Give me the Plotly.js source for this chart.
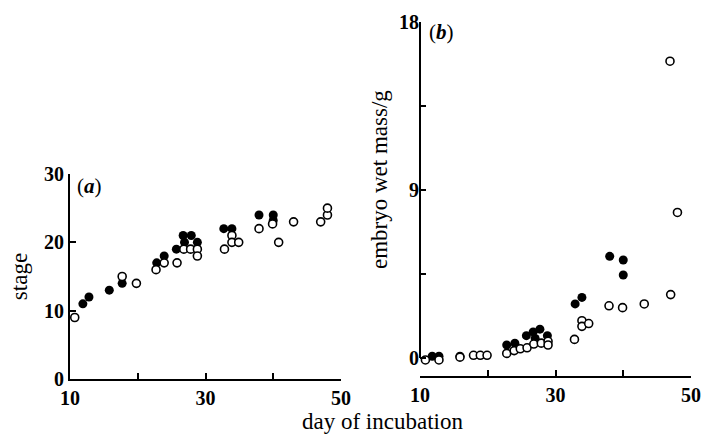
<!DOCTYPE html>
<html>
<head>
<meta charset="utf-8">
<script src="https://cdn.plot.ly/plotly-3.0.1.min.js"></script>
<style>html,body{margin:0;padding:0;background:#fff;}#chart{width:704px;height:435px;}</style>
</head>
<body>
<div id="chart"></div>
<script>
// Panel (a): stage vs day of incubation
const stageOpenDays   = [10.7, 17.7, 19.8, 22.7, 23.9, 25.8, 26.8, 27.8, 28.8, 28.8, 32.8, 33.9, 33.9, 34.9, 37.9, 39.9, 40.8, 43.0, 47.0, 48.0, 48.0];
const stageOpen       = [9, 15, 14, 16, 17, 17, 19, 19, 19, 18, 19, 21, 20, 20, 22, 22.7, 20, 23, 23, 24, 25];
const stageFilledDays = [11.9, 12.8, 15.8, 17.7, 22.8, 23.9, 25.7, 26.7, 27.9, 26.9, 28.8, 32.7, 33.9, 37.9, 40.0, 40.0];
const stageFilled     = [11, 12, 13, 14, 17, 18, 19, 21, 21, 20, 20, 22, 22, 24, 24, 23.2];

// Panel (b): embryo wet mass (g) vs day of incubation
const massOpenDays   = [10.8, 12.8, 15.9, 17.9, 18.9, 19.9, 22.8, 23.9, 24.8, 25.8, 26.8, 27.9, 28.9, 28.9, 32.8, 33.9, 33.9, 34.9, 37.9, 39.9, 43.1, 47.0, 48.0, 46.9];
const massOpen       = [-0.1, -0.1, 0.05, 0.15, 0.15, 0.15, 0.25, 0.4, 0.5, 0.55, 0.75, 0.8, 0.9, 0.7, 1.0, 2.0, 1.7, 1.85, 2.8, 2.7, 2.9, 3.4, 7.8, 15.9];
const massFilledDays = [11.8, 12.8, 15.9, 22.8, 24.0, 25.7, 26.7, 27.7, 27.0, 28.8, 32.9, 33.9, 38.0, 40.0, 40.0];
const massFilled     = [0.1, 0.1, 0.1, 0.7, 0.8, 1.2, 1.4, 1.55, 1.05, 1.2, 2.9, 3.25, 5.45, 5.25, 4.45];

// Tick labels
const dayTicks = [10, 20, 30, 40, 50];
const dayTickText = ['10', '', '30', '', '50'];
const stageTicks = [0, 10, 20, 30];
const stageTickText = ['0', '10', '20', '30'];
const massTicks = [0, 4.5, 9, 13.5, 18];
const massTickText = ['0', '', '9', '', '18'];

const serif = 'Liberation Serif, DejaVu Serif, serif';
const filledMarker = {symbol: 'circle', size: 9, color: '#000', line: {width: 0}};
const openMarker = {symbol: 'circle', size: 8, color: '#fff', line: {color: '#000', width: 1.6}};

const traces = [
  {x: stageFilledDays, y: stageFilled, xaxis: 'x', yaxis: 'y', type: 'scatter', mode: 'markers', marker: filledMarker, name: 'filled', cliponaxis: false},
  {x: stageOpenDays, y: stageOpen, xaxis: 'x', yaxis: 'y', type: 'scatter', mode: 'markers', marker: openMarker, name: 'open', cliponaxis: false},
  {x: massFilledDays, y: massFilled, xaxis: 'x2', yaxis: 'y2', type: 'scatter', mode: 'markers', marker: filledMarker, name: 'filled', cliponaxis: false},
  {x: massOpenDays, y: massOpen, xaxis: 'x2', yaxis: 'y2', type: 'scatter', mode: 'markers', marker: openMarker, name: 'open', cliponaxis: false}
];

const tickFont = {family: serif, size: 20, color: '#000', weight: 'bold'};
const titleFont = {family: serif, size: 23, color: '#000'};
const baseAxis = {
  showgrid: false, zeroline: false, showline: true, linecolor: '#000', linewidth: 2,
  ticks: 'inside', ticklen: 6, tickwidth: 2, tickcolor: '#000', tickfont: tickFont, fixedrange: true
};

const layout = {
  width: 704, height: 435,
  margin: {l: 0, r: 0, t: 0, b: 0},
  paper_bgcolor: '#fff', plot_bgcolor: '#fff',
  showlegend: false,
  xaxis: Object.assign({}, baseAxis, {domain: [70/704, 341/704], range: [10, 50], anchor: 'y',
    tickmode: 'array', tickvals: dayTicks, ticktext: dayTickText}),
  yaxis: Object.assign({}, baseAxis, {domain: [1 - 379/435, 1 - 174/435], range: [0, 30], anchor: 'x',
    tickmode: 'array', tickvals: stageTicks, ticktext: stageTickText,
    title: {text: 'stage', font: titleFont, standoff: 10}}),
  xaxis2: Object.assign({}, baseAxis, {domain: [420/704, 691/704], range: [10, 50], anchor: 'y2',
    tickmode: 'array', tickvals: dayTicks, ticktext: dayTickText}),
  yaxis2: Object.assign({}, baseAxis, {domain: [1 - 376/435, 1 - 22/435], range: [-0.96, 18], anchor: 'x2',
    showline: false, tickmode: 'array', tickvals: massTicks, ticktext: massTickText}),
  shapes: [
    {type: 'line', xref: 'x2 domain', yref: 'y2', x0: 0, x1: 0, y0: 0, y1: 18, line: {color: '#000', width: 2}}
  ],
  annotations: [
    {text: 'day of incubation', xref: 'paper', yref: 'paper', x: 382/704, y: 0,
      xanchor: 'center', yanchor: 'bottom', borderpad: 0, showarrow: false, font: titleFont},
    {text: 'embryo wet mass/g', xref: 'paper', yref: 'paper', x: 380/704, y: 1 - 180/435, textangle: -90,
      xanchor: 'center', yanchor: 'middle', showarrow: false, font: titleFont},
    {text: '(<b><i>a</i></b>)', xref: 'paper', yref: 'paper', x: 75/704, y: 1 - 186/435,
      xanchor: 'left', yanchor: 'middle', showarrow: false, font: {family: serif, size: 21, color: '#000'}},
    {text: '(<b><i>b</i></b>)', xref: 'paper', yref: 'paper', x: 427/704, y: 1 - 32/435,
      xanchor: 'left', yanchor: 'middle', showarrow: false, font: {family: serif, size: 21, color: '#000'}}
  ]
};

Plotly.newPlot('chart', traces, layout, {staticPlot: true, displayModeBar: false});
</script>
</body>
</html>
